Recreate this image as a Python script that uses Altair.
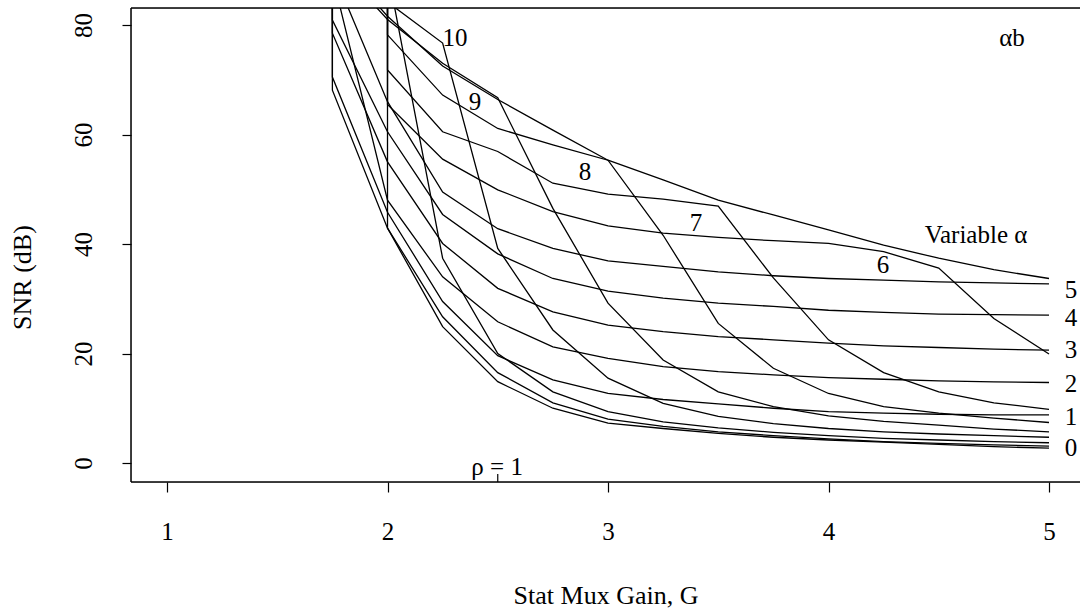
import altair as alt
import pandas as pd

# ---------------- data ----------------
G_FROM_175 = [1.75, 2.0, 2.25, 2.5, 2.75, 3.0, 3.25, 3.5, 3.75, 4.0, 4.25, 4.5, 4.75, 5.0]
G_FROM_2 = [2.0, 2.25, 2.5, 2.75, 3.0, 3.25, 3.5, 3.75, 4.0, 4.25, 4.5, 4.75, 5.0]
TOP = 97.0  # off-chart end of the vertical segments

# curves that leave the vertical at G = 1.75 (labelled 0..5 at the right)
b0 = [68.1, 42.9, 26.7, 16.5, 11.0, 8.0, 6.7, 5.7, 5.0, 4.4, 3.9, 3.6, 3.3, 3.1]
b1 = [70.5, 45.8, 29.5, 19.6, 15.2, 12.7, 11.6, 10.8, 10.0, 9.4, 9.1, 8.9, 8.8, 8.8]
b2 = [89.0, 48.0, 34.0, 25.8, 21.2, 19.1, 17.6, 16.7, 16.1, 15.6, 15.3, 15.0, 14.8, 14.7]
b3 = [78.5, 55.0, 40.1, 31.9, 27.6, 25.2, 24.0, 23.1, 22.5, 21.9, 21.4, 21.1, 20.8, 20.6]
b4 = [80.9, 60.5, 45.4, 38.2, 33.7, 31.4, 30.1, 29.2, 28.6, 27.9, 27.5, 27.2, 27.1, 27.0]
b5 = [90.0, 66.0, 49.5, 42.8, 39.2, 36.9, 35.9, 34.9, 34.2, 33.7, 33.4, 33.1, 32.9, 32.7]

# curves that leave the vertical at G = 2
y0 = [42.9, 24.9, 14.85, 10.0, 7.3, 6.3, 5.4, 4.7, 4.2, 3.8, 3.4, 3.0, 2.7]
b6 = [65.5, 55.5, 49.9, 45.9, 43.3, 42.0, 41.2, 40.6, 40.1, 38.6, 35.6, 26.4, 19.9]
b7 = [71.8, 60.5, 56.9, 51.1, 49.1, 48.2, 46.9, 33.8, 22.5, 16.5, 13.0, 11.0, 9.8]
b8 = [78.2, 67.2, 61.1, 58.1, 55.3, 41.6, 25.5, 17.3, 12.7, 10.3, 9.1, 8.2, 7.4]

# curves coming in from above the frame
b9 = [92.0, 81.0, 73.0, 66.7, 46.5, 29.2, 18.8, 13.0, 10.3, 8.6, 7.6, 6.9, 6.2, 5.7]
b10 = [92.0, 84.2, 76.7, 39.2, 24.3, 15.5, 10.9, 8.5, 7.2, 6.3, 5.7, 5.3, 5.0, 4.7]
b11 = [90.0, 37.4, 20.0, 13.0, 9.4, 7.5, 6.4, 5.6, 5.0, 4.5, 4.2, 3.9, 3.7]
var_alpha = [93.0, 81.6, 72.5, 66.4, 60.8, 55.3, 51.7, 48.0, 45.3, 42.6, 39.8, 37.4, 35.3, 33.7]

# text annotations (G, SNR, text)
LABEL_TEXT = ["10", "9", "8", "7", "6", "Variable  \u03b1", "\u03b1b",
              "5", "4", "3", "2", "1", "0", "\u03c1 = 1"]
LABEL_G = [2.306, 2.397, 2.896, 3.399, 4.247, 4.669, 4.832,
           5.10, 5.10, 5.10, 5.10, 5.10, 5.10, 2.497]
LABEL_SNR = [77.6, 65.9, 53.2, 43.8, 36.2, 41.6, 77.6,
             31.6, 26.5, 20.6, 14.4, 8.4, 2.7, -0.75]

X_TICKS = [1, 2, 3, 4, 5]
Y_TICKS = [0, 20, 40, 60, 80]
X_DOMAIN = [0.8367, 5.1406]
Y_DOMAIN = [-3.47, 83.105]

# ---------------- build table ----------------
rows = []
def add(name, gs, ys):
    for i, (g, y) in enumerate(zip(gs, ys)):
        rows.append({"curve": name, "i": i, "G": g, "SNR": y})

for name, vals in [("b0", b0), ("b1", b1), ("b3", b3), ("b4", b4)]:
    add(name, [1.75] + G_FROM_175, [TOP] + vals)
for name, vals in [("b2", b2), ("b5", b5), ("b9", b9), ("b10", b10), ("var", var_alpha)]:
    add(name, G_FROM_175, vals)
for name, vals in [("y0", y0), ("b6", b6), ("b7", b7), ("b8", b8)]:
    add(name, [2.0] + G_FROM_2, [TOP] + vals)
add("b11", G_FROM_2, b11)
lines_df = pd.DataFrame(rows)

labels_df = pd.DataFrame({"G": LABEL_G, "SNR": LABEL_SNR, "t": LABEL_TEXT})
rho_tick = pd.DataFrame({"G": [2.5], "y1": [-2.0], "y2": [Y_DOMAIN[0]]})

FONT = "Liberation Serif"
W, H = 949, 474

xs = alt.Scale(domain=X_DOMAIN, nice=False, zero=False)
ys = alt.Scale(domain=Y_DOMAIN, nice=False, zero=False)

x_axis = alt.Axis(values=X_TICKS, format="d", title="Stat Mux Gain, G", grid=False, domain=False,
                  tickSize=10, tickColor="black", tickWidth=1.2,
                  labelFont=FONT, labelFontSize=25, labelColor="black",
                  labelBaseline="middle", labelPadding=39, labelFlush=False,
                  titleFont=FONT, titleFontSize=26, titleFontWeight="normal",
                  titleColor="black", titleY=113, titleBaseline="middle")
y_axis = alt.Axis(values=Y_TICKS, format="d", title="SNR (dB)", grid=False, domain=False,
                  tickSize=9, tickColor="black", tickWidth=1.2,
                  labelFont=FONT, labelFontSize=25, labelColor="black",
                  labelAngle=270, labelAlign="center", labelBaseline="middle",
                  labelPadding=39, labelFlush=False,
                  titleFont=FONT, titleFontSize=26, titleFontWeight="normal",
                  titleColor="black", titleX=-109, titleY=269,
                  titleAngle=270, titleAlign="center", titleBaseline="middle")

lines = alt.Chart(lines_df).mark_line(color="black", strokeWidth=1.3, clip=True).encode(
    x=alt.X("G:Q", scale=xs, axis=x_axis),
    y=alt.Y("SNR:Q", scale=ys, axis=y_axis),
    detail="curve:N",
    order="i:Q",
)

texts = alt.Chart(labels_df).mark_text(font=FONT, fontSize=25, color="black",
                                       align="center", baseline="middle").encode(
    x=alt.X("G:Q", scale=xs), y=alt.Y("SNR:Q", scale=ys), text="t:N")

tick = alt.Chart(rho_tick).mark_rule(color="black", strokeWidth=1.2).encode(
    x=alt.X("G:Q", scale=xs), y=alt.Y("y1:Q", scale=ys), y2="y2:Q")

one = pd.DataFrame({"a": [0]})
frame_top = alt.Chart(one).mark_rule(color="black", strokeWidth=1.5).encode(
    x=alt.value(0), x2=alt.value(W + 5), y=alt.value(0))
frame_bottom = alt.Chart(one).mark_rule(color="black", strokeWidth=1.5).encode(
    x=alt.value(0), x2=alt.value(W + 5), y=alt.value(H))
frame_left = alt.Chart(one).mark_rule(color="black", strokeWidth=1.5).encode(
    x=alt.value(0), y=alt.value(0), y2=alt.value(H))

chart = alt.layer(lines, tick, texts, frame_top, frame_bottom, frame_left).properties(
    width=W, height=H,
    autosize=alt.AutoSizeParams(type="none"),
    padding={"left": 131, "top": 8, "right": 0, "bottom": 126},
).configure_view(stroke=None).configure(background="white")

chart.save("out.html", embed_options={"renderer": "svg", "actions": False})
